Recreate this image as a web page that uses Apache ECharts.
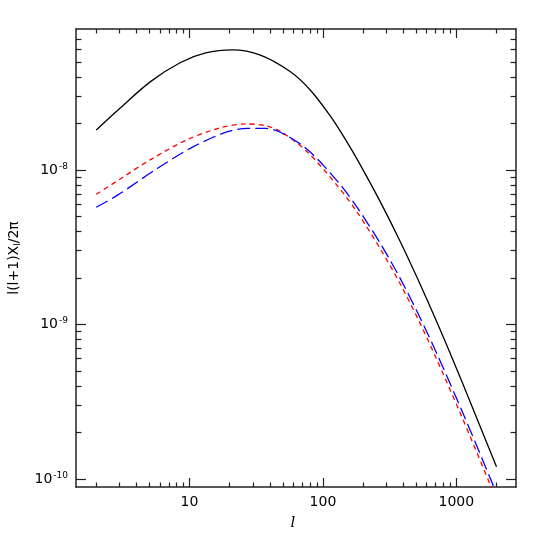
<!DOCTYPE html>
<html>
<head>
<meta charset="utf-8">
<script src="https://cdn.jsdelivr.net/npm/echarts@6/dist/echarts.min.js"></script>
<style>html,body{margin:0;padding:0;background:#fff}#c{width:545px;height:545px}</style>
</head>
<body>
<div id="c"></div>
<script>
// ---- data ----
const lBlack = [2.0, 3.04, 5.10, 8.56, 13.2, 21.0, 34.0, 57.1, 80.6, 113.8, 147.4, 191, 270, 381, 519, 721, 950, 1273, 2000];
const vBlack = [1.816e-8, 2.529e-8, 3.729e-8, 4.957e-8, 5.715e-8, 5.987e-8, 5.541e-8, 4.322e-8, 3.281e-8, 2.229e-8, 1.576e-8, 1.075e-8, 6.187e-9, 3.418e-9, 1.930e-9, 1.019e-9, 5.803e-10, 3.135e-10, 1.201e-10];

const lRed = [2.0, 2.89, 5.10, 9.66, 17.1, 26.3, 37.1, 48.0, 76.5, 130.7, 181, 270, 381, 519, 696, 1072, 1797, 2000];
const vRed = [6.96e-9, 8.524e-9, 1.166e-8, 1.573e-8, 1.877e-8, 1.985e-8, 1.937e-8, 1.779e-8, 1.308e-8, 7.745e-9, 5.314e-9, 3.073e-9, 1.819e-9, 1.073e-9, 6.220e-10, 2.659e-10, 9.160e-11, 7.238e-11];

const lBlue = [2.0, 2.89, 5.76, 10.7, 19.3, 27.2, 37.1, 48.0, 76.5, 130.7, 181, 270, 381, 537, 721, 1109, 1861, 2000];
const vBlue = [5.731e-9, 6.871e-9, 1.025e-8, 1.416e-8, 1.769e-8, 1.857e-8, 1.857e-8, 1.754e-8, 1.357e-8, 8.299e-9, 5.694e-9, 3.333e-9, 1.973e-9, 1.098e-9, 6.361e-10, 2.720e-10, 9.367e-11, 7.959e-11];

const xRange = [1.41, 2800];
const yRange = [8.87e-11, 8.17e-8];
const xMajorTicks = [10, 100, 1000];
const xMinorTicks = [2,3,4,5,6,7,8,9,20,30,40,50,60,70,80,90,200,300,400,500,600,700,800,900,2000];
const yMajorTicks = [1e-10, 1e-9, 1e-8];
const yMinorTicks = [2e-10,3e-10,4e-10,5e-10,6e-10,7e-10,8e-10,9e-10,2e-9,3e-9,4e-9,5e-9,6e-9,7e-9,8e-9,9e-9,2e-8,3e-8,4e-8,5e-8,6e-8,7e-8];

// ---- chart ----
const L = Math.log10;
const toPts = (ls, vs) => ls.map((l, i) => [L(l), L(vs[i])]);
const axisColor = '#222';
const FONT = 'DejaVu Sans';

function xAx(pos, major, showLine) {
  return {
    type: 'value', position: pos, min: L(xRange[0]), max: L(xRange[1]),
    axisLine: { show: showLine, lineStyle: { color: axisColor, width: 1.5 } },
    splitLine: { show: false },
    axisTick: { show: true, inside: true, length: major ? 9 : 4.5,
      customValues: (major ? xMajorTicks : xMinorTicks).map(L),
      lineStyle: { color: axisColor, width: 1.2 } },
    axisLabel: (major && pos === 'bottom') ? {
      show: true, customValues: xMajorTicks.map(L),
      formatter: v => String(Math.round(Math.pow(10, v))),
      fontFamily: FONT, fontSize: 14, color: '#000', margin: 8
    } : { show: false }
  };
}
function yAx(pos, major, showLine) {
  return {
    type: 'value', position: pos, min: L(yRange[0]), max: L(yRange[1]),
    axisLine: { show: showLine, lineStyle: { color: axisColor, width: 1.5 } },
    splitLine: { show: false },
    axisTick: { show: true, inside: true, length: major ? 10 : 5.5,
      customValues: (major ? yMajorTicks : yMinorTicks).map(L),
      lineStyle: { color: axisColor, width: 1.2 } },
    axisLabel: (major && pos === 'left') ? {
      show: true, customValues: yMajorTicks.map(L),
      formatter: v => '10{s|' + '-' + Math.round(-v) + '}',
      fontFamily: FONT, fontSize: 14, color: '#000', margin: 8,
      rich: { s: { fontFamily: FONT, fontSize: 9, color: '#000', padding: [0, 0, 7, 1] } }
    } : { show: false }
  };
}

const chart = echarts.init(document.getElementById('c'), null, { renderer: 'canvas' });
chart.setOption({
  animation: false,
  backgroundColor: '#fff',
  grid: { left: 76, top: 29, right: 29, bottom: 58, containLabel: false },
  xAxis: [xAx('bottom', true, true), xAx('bottom', false, false), xAx('top', true, true), xAx('top', false, false)],
  yAxis: [yAx('left', true, true), yAx('left', false, false), yAx('right', true, true), yAx('right', false, false)],
  series: [
    { type: 'line', xAxisIndex: 0, yAxisIndex: 0, data: toPts(lBlack, vBlack), smooth: 0.3, showSymbol: false, clip: true,
      lineStyle: { color: '#000', width: 1.3 } },
    { type: 'line', xAxisIndex: 0, yAxisIndex: 0, data: toPts(lRed, vRed), smooth: 0.3, showSymbol: false, clip: true,
      lineStyle: { color: '#ff0000', width: 1.3, type: [5, 4] } },
    { type: 'line', xAxisIndex: 0, yAxisIndex: 0, data: toPts(lBlue, vBlue), smooth: 0.3, showSymbol: false, clip: true,
      lineStyle: { color: '#0000ff', width: 1.3, type: [13, 5] } }
  ],
  graphic: [
    { type: 'text', x: 293, y: 523, style: { text: 'l', font: 'italic 15px "DejaVu Serif"', fill: '#000', align: 'center', verticalAlign: 'middle' } },
    { type: 'text', x: 14, y: 258, rotation: Math.PI / 2,
      style: { text: 'l(l+1)X{sub|l}/2π', fontFamily: FONT, fontSize: 14, fill: '#000', align: 'center', verticalAlign: 'middle',
        rich: { sub: { fontFamily: FONT, fontSize: 9, fill: '#000', padding: [8, 0, 0, 0] } } } }
  ]
});
</script>
</body>
</html>
